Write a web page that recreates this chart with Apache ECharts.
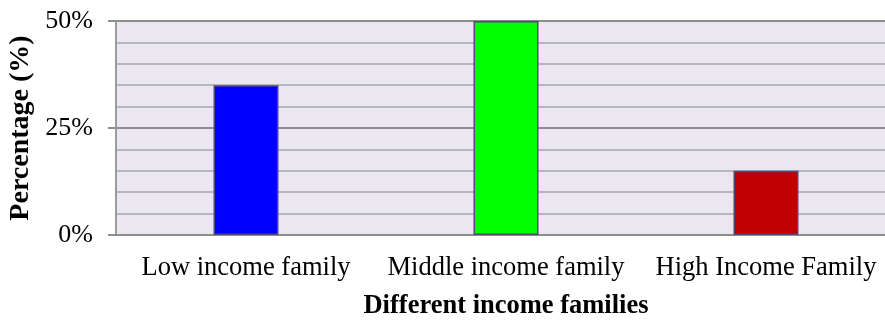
<!DOCTYPE html>
<html>
<head>
<meta charset="utf-8">
<script src="https://cdn.jsdelivr.net/npm/echarts@6/dist/echarts.min.js"></script>
<style>
  html, body { margin: 0; padding: 0; background: #ffffff; }
  #chart { width: 885px; height: 320px; }
</style>
</head>
<body>
<div id="chart"></div>
<script>
// Share of families by income group
const categories = ['Low income family', 'Middle income family', 'High Income Family'];
const percentages = [35, 50, 15];
const yTickValues = [0, 25, 50];

const barColors = ['#0000ff', '#00ff00', '#c00000'];
const serif = '"Times New Roman", "Liberation Serif", serif';

const chart = echarts.init(document.getElementById('chart'), null, { renderer: 'canvas' });

chart.setOption({
  animation: false,
  grid: {
    left: 116, top: 21, width: 780, height: 214,
    containLabel: false,
    outerBoundsMode: 'none',
    show: true, backgroundColor: '#eae8ee', borderWidth: 0
  },
  xAxis: {
    type: 'category',
    data: categories,
    name: 'Different income families',
    nameLocation: 'middle',
    nameGap: 58,
    nameTextStyle: { fontFamily: serif, fontSize: 26.5, fontWeight: 'bold', color: '#000' },
    axisLine: { show: true, lineStyle: { color: '#8e8e8e', width: 2 } },
    axisTick: { show: false },
    axisLabel: { fontFamily: serif, fontSize: 26.5, color: '#000', margin: 20, interval: 0, hideOverlap: false },
    splitLine: { show: false }
  },
  yAxis: {
    type: 'value',
    min: yTickValues[0],
    max: yTickValues[yTickValues.length - 1],
    interval: yTickValues[1] - yTickValues[0],
    name: 'Percentage (%)',
    nameLocation: 'middle',
    nameGap: 78,
    nameTextStyle: { fontFamily: serif, fontSize: 28, fontWeight: 'bold', color: '#000' },
    axisLine: { show: true, lineStyle: { color: '#9a9a9a', width: 2 } },
    axisTick: { show: true, length: 8, lineStyle: { color: '#8e8e8e', width: 2 } },
    axisLabel: {
      fontFamily: serif, fontSize: 26, color: '#000', margin: 23,
      formatter: v => v + '%'
    },
    splitLine: { show: true, lineStyle: { color: '#8e8e8e', width: 2 } },
    minorTick: { show: false, splitNumber: 5 },
    minorSplitLine: { show: true, lineStyle: { color: '#b8b7bc', width: 2 } }
  },
  series: [{
    type: 'bar',
    barWidth: 65,
    data: percentages.map((v, i) => ({
      value: v,
      itemStyle: { color: barColors[i] }
    })),
    itemStyle: { borderColor: '#53467a', borderWidth: 1.5 }
  }]
});
</script>
</body>
</html>
